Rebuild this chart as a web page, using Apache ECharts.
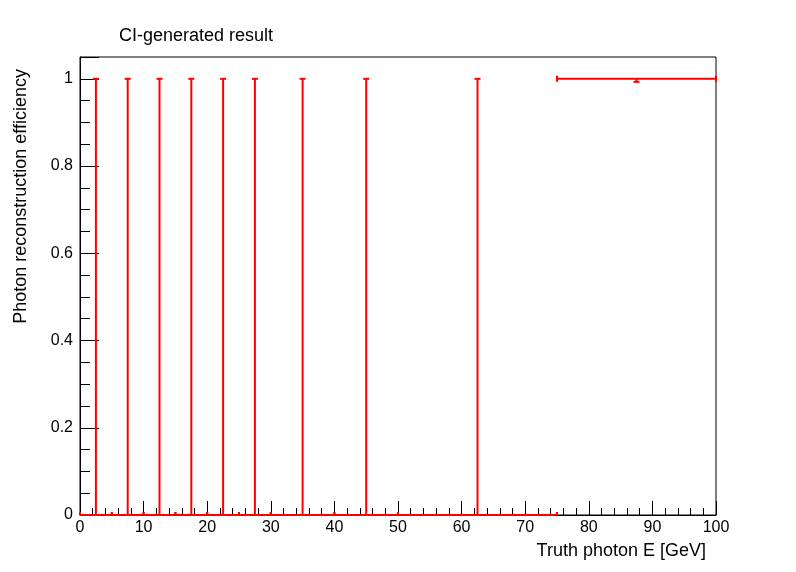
<!DOCTYPE html>
<html>
<head>
<meta charset="utf-8">
<script src="https://cdn.jsdelivr.net/npm/echarts@6/dist/echarts.min.js"></script>
<style>
html,body{margin:0;padding:0;background:#fff;}
#chart{width:796px;height:572px;}
</style>
</head>
<body>
<div id="chart"></div>
<script>
// Data (efficiency per truth photon energy bin)
const binCenter = [2.5, 7.5, 12.5, 17.5, 22.5, 27.5, 35, 45, 62.5, 87.5];
const binLow    = [0, 5, 10, 15, 20, 25, 30, 40, 50, 75];
const binHigh   = [5, 10, 15, 20, 25, 30, 40, 50, 75, 100];
const efficiency = [0, 0, 0, 0, 0, 0, 0, 0, 0, 1];
const errLow    = [0, 0, 0, 0, 0, 0, 0, 0, 0, 0.007];
const errUp     = [1, 1, 1, 1, 1, 1, 1, 1, 1, 0];
const xTickLabels = [0, 10, 20, 30, 40, 50, 60, 70, 80, 90, 100];
const yTickLabels = [0, 0.2, 0.4, 0.6, 0.8, 1];

const FONT = "'Liberation Sans', Arial, Helvetica, sans-serif";
const RED = '#ff0000';

const data = binCenter.map((x, i) => [x, efficiency[i], binLow[i], binHigh[i], errLow[i], errUp[i]]);

function renderItem(params, api) {
  const x = api.value(0), y = api.value(1), xl = api.value(2), xh = api.value(3), el = api.value(4), eh = api.value(5);
  const L = api.coord([xl, y]), R = api.coord([xh, y]);
  const T = api.coord([x, y + eh]), B = api.coord([x, y - el]);
  const cs = params.coordSys;
  const gTop = cs.y, gBot = cs.y + cs.height;
  const cap = 3;
  const style = { stroke: RED, lineWidth: 2, fill: null };
  const vCap = (px, py) => ({
    type: 'line',
    shape: { x1: px, y1: Math.max(py - cap, gTop), x2: px, y2: Math.min(py + cap, gBot) },
    style
  });
  const children = [
    { type: 'line', shape: { x1: L[0], y1: L[1], x2: R[0], y2: R[1] }, style },
    vCap(L[0], L[1]),
    vCap(R[0], R[1])
  ];
  if (eh > 0 || el > 0) {
    children.push({ type: 'line', shape: { x1: B[0], y1: B[1], x2: T[0], y2: T[1] }, style });
  }
  if (eh > 0) children.push({ type: 'line', shape: { x1: T[0] - cap, y1: T[1], x2: T[0] + cap, y2: T[1] }, style });
  if (el > 0) children.push({ type: 'line', shape: { x1: B[0] - cap, y1: B[1], x2: B[0] + cap, y2: B[1] }, style });
  return { type: 'group', children };
}

const chart = echarts.init(document.getElementById('chart'));
chart.setOption({
  animation: false,
  backgroundColor: '#fff',
  title: {
    text: 'CI-generated result',
    left: 114, top: 22,
    textStyle: { fontFamily: FONT, fontSize: 18, fontWeight: 'normal', color: '#000' }
  },
  grid: { left: 80, right: 80, top: 57, bottom: 57, show: true, borderColor: '#000', borderWidth: 1, backgroundColor: 'transparent' },
  xAxis: [{
    type: 'value', min: 0, max: 100, interval: 10,
    axisLine: { show: true, onZero: false, lineStyle: { color: '#000', width: 1 } },
    axisTick: { show: true, inside: true, length: 14, lineStyle: { color: '#000' } },
    minorTick: { show: true, splitNumber: 5, length: 7, lineStyle: { color: '#000' } },
    splitLine: { show: false },
    axisLabel: {
      fontFamily: FONT, fontSize: 16, color: '#000', margin: 5,
      formatter: v => xTickLabels.includes(v) ? String(v) : ''
    }
  }],
  yAxis: [{
    type: 'value', min: 0, max: 1.05, interval: 0.2,
    axisLine: { show: true, onZero: false, lineStyle: { color: '#000', width: 1 } },
    axisTick: { show: true, inside: true, length: 19, lineStyle: { color: '#000' } },
    splitLine: { show: false },
    axisLabel: {
      fontFamily: FONT, fontSize: 16, color: '#000', margin: 7,
      formatter: v => {
        const m = yTickLabels.find(t => Math.abs(t - v) < 1e-6);
        return m === undefined ? '' : String(m);
      }
    }
  }, {
    type: 'value', min: 0, max: 1.05, interval: 0.05, position: 'left', offset: 0,
    axisLine: { show: false },
    axisTick: { show: true, inside: true, length: 10, lineStyle: { color: '#000' } },
    splitLine: { show: false },
    axisLabel: { show: false }
  }],
  graphic: [
    {
      type: 'text', x: 706, y: 551,
      style: { text: 'Truth photon E [GeV]', fontFamily: FONT, fontSize: 18, fill: '#000', textAlign: 'right', textVerticalAlign: 'middle' }
    },
    {
      type: 'text', x: 21, y: 69, rotation: Math.PI / 2,
      style: { text: 'Photon reconstruction efficiency', fontFamily: FONT, fontSize: 18, fill: '#000', textAlign: 'right', textVerticalAlign: 'middle' }
    }
  ],
  series: [{
    type: 'custom',
    xAxisIndex: 0, yAxisIndex: 0,
    renderItem: renderItem,
    encode: { x: [0, 2, 3], y: [1] },
    data: data,
    clip: false,
    z: 5
  }]
});
</script>
</body>
</html>
